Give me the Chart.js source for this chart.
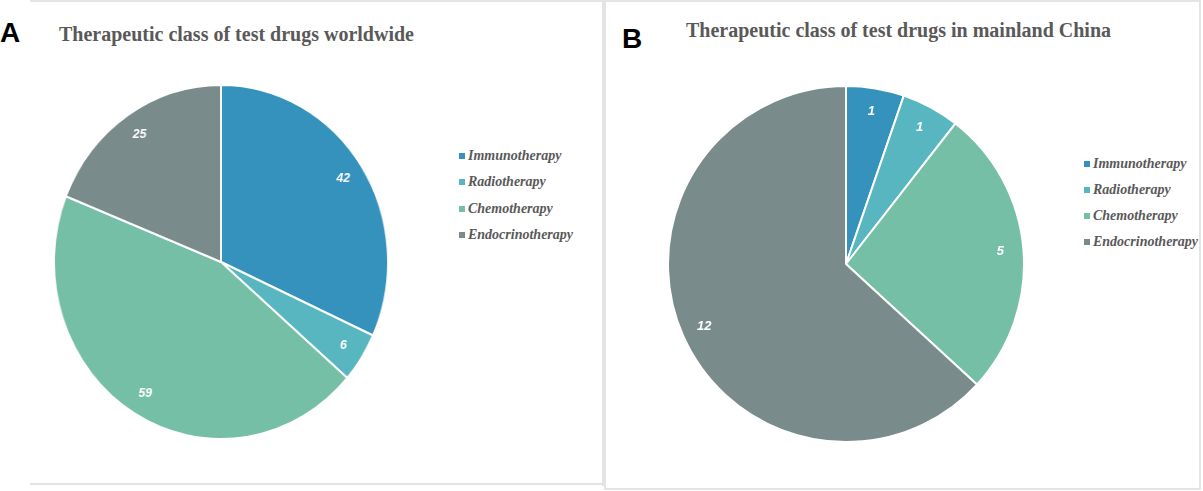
<!DOCTYPE html>
<html>
<head>
<meta charset="utf-8">
<script src="https://cdn.jsdelivr.net/npm/chart.js@4.4.0/dist/chart.umd.min.js"></script>
<style>
    body { margin: 0; background: #fff; }
    #lienzo { position: relative; width: 1203px; height: 491px; overflow: hidden; }
    .linea { position: absolute; background: #e4e4e4; }
    .panel-letra { position: absolute; font: bold 28px "Liberation Sans", Arial, sans-serif; line-height: 1; color: #000; }
    .titulo { position: absolute; font: bold 20px "Liberation Serif", "Times New Roman", serif; line-height: 1; color: #595959; white-space: nowrap; }
    .grafico { position: absolute; }
    .leyenda-item { position: absolute; height: 16px; display: flex; align-items: center; white-space: nowrap;
        font: italic bold 14px "Liberation Serif", "Times New Roman", serif; color: #595959; }
    .leyenda-item span.caja { width: 6px; height: 6px; margin-right: 3px; display: inline-block; }
</style>
</head>
<body>
<div id="lienzo">
    <div class="linea" style="left:30px; top:0; width:574px; height:2px;"></div>
    <div class="linea" style="left:602px; top:0; width:2px; height:486px;"></div>
    <div class="linea" style="left:30px; top:483px; width:574px; height:2px;"></div>
    <div class="linea" style="left:604px; top:0; width:597px; height:2px;"></div>
    <div class="linea" style="left:604px; top:0; width:2px; height:490px;"></div>
    <div class="linea" style="left:1199px; top:0; width:2px; height:490px;"></div>
    <div class="linea" style="left:604px; top:488px; width:597px; height:2px;"></div>

    <div class="panel-letra" style="left:0; top:19px;">A</div>
    <div class="panel-letra" style="left:622px; top:25px;">B</div>
    <div class="titulo" style="left:59px; top:24px;">Therapeutic class of test drugs worldwide</div>
    <div class="titulo" style="left:686px; top:20px;">Therapeutic class of test drugs in mainland China</div>

    <!-- el pastel A de la figura esta algo estrechado en horizontal -->
    <div class="grafico" style="left:43px; top:84px; width:356px; height:356px; transform:scaleX(0.944); transform-origin:50% 50%;"><canvas id="graficoMundial"></canvas></div>
    <div class="grafico" style="left:667px; top:84px; width:358px; height:360px;"><canvas id="graficoChina"></canvas></div>
</div>

<script>
// categorias y valores
const categorias = ['Immunotherapy', 'Radiotherapy', 'Chemotherapy', 'Endocrinotherapy'];
const valoresMundial = [42, 6, 59, 25];
const valoresChina = [1, 1, 5, 12];
const colores = ['#3592bc', '#58b6c0', '#76bfa7', '#7a8b8b'];

// etiquetas blancas dentro de cada porcion
const etiquetasPlugin = {
    id: 'etiquetas',
    afterDatasetsDraw(chart) {
        const ctx = chart.ctx;
        const meta = chart.getDatasetMeta(0);
        const data = chart.data.datasets[0].data;
        ctx.save();
        ctx.font = 'italic bold 13px "Liberation Sans", Arial, sans-serif';
        ctx.fillStyle = '#ffffff';
        ctx.textAlign = 'center';
        ctx.textBaseline = 'middle';
        meta.data.forEach((arc, i) => {
            const p = arc.getProps(['x', 'y', 'startAngle', 'endAngle', 'outerRadius'], true);
            const medio = (p.startAngle + p.endAngle) / 2;
            const r = p.outerRadius * 0.87;
            ctx.fillText(data[i], p.x + Math.cos(medio) * r, p.y + Math.sin(medio) * r);
        });
        ctx.restore();
    }
};

function crearConfigPastel(labels, data) {
    return {
        type: 'pie',
        data: {
            labels,
            datasets: [{
                data,
                backgroundColor: colores,
                borderColor: '#ffffff',
                borderWidth: 2
            }]
        },
        options: {
            responsive: true,
            maintainAspectRatio: false,
            animation: false,
            layout: { padding: 0 },
            plugins: {
                legend: { display: false },
                tooltip: { enabled: false }
            }
        },
        plugins: [etiquetasPlugin]
    };
}

function crearLeyenda(x, filasY) {
    const lienzo = document.getElementById('lienzo');
    categorias.forEach((cat, i) => {
        const item = document.createElement('div');
        item.className = 'leyenda-item';
        item.style.left = x + 'px';
        item.style.top = (filasY[i] - 8) + 'px';
        item.innerHTML = '<span class="caja" style="background:' + colores[i] + '"></span>' + cat;
        lienzo.appendChild(item);
    });
}

new Chart(document.getElementById('graficoMundial'), crearConfigPastel(categorias, valoresMundial));
new Chart(document.getElementById('graficoChina'), crearConfigPastel(categorias, valoresChina));

crearLeyenda(459, [156, 182, 209, 235]);
crearLeyenda(1084, [164, 190, 216, 242]);
</script>
</body>
</html>
